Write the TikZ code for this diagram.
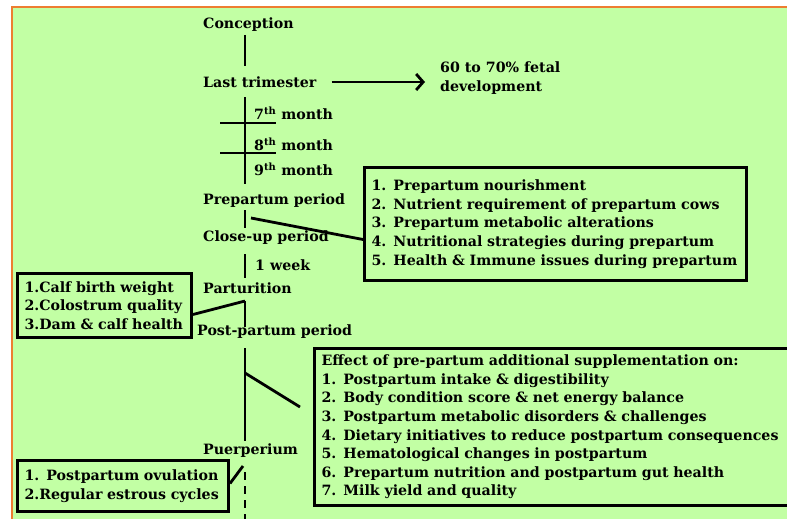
\documentclass[tikz,border=0pt]{standalone}
\usepackage{fontspec}
\setmainfont{DejaVu Serif}
\usetikzlibrary{positioning,arrows.meta}

\definecolor{bggreen}{RGB}{194,255,164}
\definecolor{edgeorange}{RGB}{237,125,49}
\newcommand{\stagefont}{\fontsize{14.2}{18.6}\selectfont\bfseries}

\tikzset{
  stage/.style={anchor=west, inner sep=0pt, yshift=-2pt, font=\stagefont},
  timeline/.style={line width=2.8pt},
  listbox/.style={draw, line width=3pt, anchor=north west, align=left,
    inner xsep=7pt, inner ysep=0pt, font=\stagefont},
}

\begin{document}
\begin{tikzpicture}[x=1pt, y=-1pt]
    \useasboundingbox (0,0) rectangle (787,519);
    \clip (0,0) rectangle (787,519);
    \fill[white] (0,0) rectangle (787,519);
    \fill[bggreen] (11,6) rectangle (800,530);
    \draw[edgeorange, line width=2.4pt] (12,530) -- (12,7) -- (800,7);

    % stages along the time line
    \node[stage] (conception) at (203,23) {Conception};
    \node[stage] (lasttri) at (203,80) {Last trimester};
    \node[stage, align=left] (fetal) at (440,76) {60 to 70\% fetal\\development};
    \node[stage] (m7) at (254,111) {7\textsuperscript{th} month};
    \node[stage] (m8) at (254,142) {8\textsuperscript{th} month};
    \node[stage] (m9) at (254,167) {9\textsuperscript{th} month};
    \node[stage] (prep) at (203,199) {Prepartum period};
    \node[stage] (closeup) at (203,236) {Close-up period};
    \node[stage] (week) at (255,263) {1 week};
    \node[stage] (partu) at (203,286) {Parturition};
    \node[stage] (post) at (197,330) {Post-partum period};
    \node[stage] (puer) at (203,449) {Puerperium};

    \foreach \a/\b in {35/66, 97/184, 210/228, 254/278, 301/327, 348/441}
        \draw[timeline] (245,\a) -- (245,\b);
    \foreach \y in {123, 153}
        \draw[timeline] (220,\y) -- (276,\y);
    \draw[timeline, dash pattern=on 8pt off 6pt] (245,472) -- (245,525);

    \draw[timeline, -{Straight Barb[length=7pt, width=16pt]}]
        ([xshift=15pt]lasttri.east) -- ([xshift=-15pt]fetal.west |- lasttri.east);

    % boxes
    \node[listbox, text width=160pt, minimum height=64pt] (calfbox) at (16,272)
        {1.Calf birth weight\\2.Colostrum quality\\3.Dam \& calf health};
    \node[listbox, text width=368pt, minimum height=113pt] (prebox) at (363,166)
        {1. Prepartum nourishment\\2. Nutrient requirement of prepartum cows\\
         3. Prepartum metabolic alterations\\4. Nutritional strategies during prepartum\\
         5. Health \& Immune issues during prepartum};
    \node[listbox, text width=560pt, minimum height=157pt] (effbox) at (313,347)
        {Effect of pre-partum additional supplementation on:\\
         1. Postpartum intake \& digestibility\\
         2. Body condition score \& net energy balance\\
         3. Postpartum metabolic disorders \& challenges\\
         4. Dietary initiatives to reduce postpartum consequences\\
         5. Hematological changes in postpartum\\
         6. Prepartum nutrition and postpartum gut health\\
         7. Milk yield and quality};
    \node[listbox, text width=197pt, minimum height=51pt] (estbox) at (16,459)
        {1. Postpartum ovulation\\2.Regular estrous cycles};

    \coordinate (prepfork) at (251,218);
    \coordinate (partfork) at (245,301);
    \coordinate (postfork) at (245,373);
    \coordinate (postend) at (300,407);
    \coordinate (puerfork) at (243,466);
    \draw[timeline] (prepfork) -- ([yshift=-15.5pt]prebox.west);
    \draw[timeline] ([yshift=-9pt]calfbox.east) -- (partfork);
    \draw[timeline] (postfork) -- (postend);
    \draw[timeline] ([yshift=2.5pt]estbox.east) -- (puerfork);
\end{tikzpicture}
\end{document}
